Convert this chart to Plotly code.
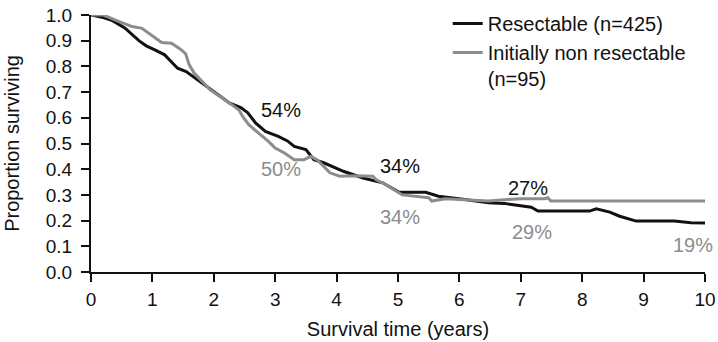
import plotly.graph_objects as go

# Resectable (n=425) - black curve
res_t = [0, 0.2, 0.35, 0.55, 0.78, 0.9, 1.04, 1.2, 1.3, 1.41, 1.55, 1.73, 2.02, 2.26, 2.44,
         2.55, 2.68, 2.84, 3.05, 3.2, 3.31, 3.5, 3.63, 3.79, 4.11, 4.43, 4.75, 5.02, 5.45,
         5.66, 6.09, 6.47, 6.73, 7.0, 7.17, 7.28, 8.12, 8.23, 8.45, 8.61, 8.88, 9.5, 9.77, 10.05]
res_s = [1.0, 0.99, 0.978, 0.95, 0.90, 0.88, 0.864, 0.845, 0.82, 0.793, 0.78, 0.748, 0.70, 0.657, 0.64,
         0.62, 0.58, 0.547, 0.528, 0.51, 0.489, 0.476, 0.437, 0.425, 0.392, 0.366, 0.347, 0.31, 0.31,
         0.295, 0.282, 0.269, 0.267, 0.256, 0.252, 0.237, 0.237, 0.246, 0.233, 0.217, 0.198, 0.198, 0.192, 0.19]

# Initially non resectable (n=95) - grey curve
nr_t = [0, 0.2, 0.46, 0.67, 0.83, 0.99, 1.15, 1.31, 1.44, 1.54, 1.6, 1.68, 1.78, 1.94, 2.26, 2.41,
        2.47, 2.57, 2.73, 2.89, 3.0, 3.15, 3.31, 3.47, 3.58, 3.68, 3.79, 3.89, 4.05, 4.32, 4.59,
        4.64, 4.8, 5.07, 5.5, 5.55, 5.77, 6.47, 6.79, 7.0, 7.39, 7.44, 7.49, 10.03]
nr_s = [1.0, 1.0, 0.974, 0.955, 0.948, 0.922, 0.893, 0.89, 0.87, 0.85, 0.806, 0.774, 0.748, 0.709, 0.657, 0.63,
        0.605, 0.573, 0.54, 0.508, 0.482, 0.463, 0.437, 0.437, 0.45, 0.437, 0.411, 0.386, 0.373, 0.375, 0.373,
        0.36, 0.34, 0.30, 0.289, 0.276, 0.285, 0.276, 0.282, 0.285, 0.285, 0.289, 0.276, 0.276]

# Percentage labels
lab_text = ["54%", "50%", "34%", "34%", "27%", "29%", "19%"]
lab_x = [3.1, 3.1, 5.04, 5.04, 7.11, 7.18, 9.8]
lab_y = [0.63, 0.40, 0.414, 0.215, 0.328, 0.154, 0.107]
lab_black = [True, False, True, False, True, False, False]

x_ticks = [0, 1, 2, 3, 4, 5, 6, 7, 8, 9, 10]
y_ticks = [0.0, 0.1, 0.2, 0.3, 0.4, 0.5, 0.6, 0.7, 0.8, 0.9, 1.0]

BLACK = "#111111"
GREY = "#8c8c8c"
FONT = "Liberation Sans, Arial, sans-serif"

fig = go.Figure()
fig.add_trace(go.Scatter(x=res_t, y=res_s, mode="lines", name="Resectable (n=425)",
                         line=dict(color=BLACK, width=3)))
fig.add_trace(go.Scatter(x=nr_t, y=nr_s, mode="lines", name="Initially non resectable<br>(n=95)",
                         line=dict(color=GREY, width=3)))

for t, x, y, b in zip(lab_text, lab_x, lab_y, lab_black):
    fig.add_annotation(x=x, y=y, text=t, showarrow=False, xanchor="center", yanchor="middle",
                       font=dict(size=20, color=BLACK if b else GREY, family=FONT))

fig.update_layout(
    width=718, height=342,
    margin=dict(l=91, r=13, t=15, b=70, autoexpand=False),
    plot_bgcolor="white", paper_bgcolor="white",
    font=dict(family=FONT, size=19, color=BLACK),
    showlegend=True,
    legend=dict(x=0.581, y=1.043, xanchor="left", yanchor="top",
                font=dict(size=20, family=FONT, color=BLACK), valign="top",
                bgcolor="rgba(0,0,0,0)", borderwidth=0, tracegroupgap=0),
)
fig.update_xaxes(range=[0, 10], tickvals=x_ticks, ticktext=[str(v) for v in x_ticks],
                 automargin=False, ticklabeloverflow="allow",
                 showgrid=False, zeroline=False, showline=True, linecolor=BLACK, linewidth=2,
                 ticks="outside", ticklen=8, tickwidth=1.5, tickcolor=BLACK,
                 ticklabelstandoff=1,
                 tickfont=dict(size=19, family=FONT, color=BLACK),
                 title=dict(text="Survival time (years)", font=dict(size=20, family=FONT, color=BLACK), standoff=13))
fig.update_yaxes(range=[0, 1.0], tickvals=y_ticks, ticktext=[f"{v:.1f}" for v in y_ticks],
                 automargin=False, ticklabeloverflow="allow",
                 showgrid=False, zeroline=False, showline=True, linecolor=BLACK, linewidth=2,
                 ticks="outside", ticklen=8, tickwidth=1.5, tickcolor=BLACK,
                 ticklabelstandoff=5,
                 tickfont=dict(size=19, family=FONT, color=BLACK),
                 title=dict(text="Proportion surviving", font=dict(size=20, family=FONT, color=BLACK), standoff=21))

# remove the browser's default body margin so the 718x342 figure fills the window exactly
fig.write_html("out.html", config={"displayModeBar": False},
               post_script="document.body.style.margin='0';")
